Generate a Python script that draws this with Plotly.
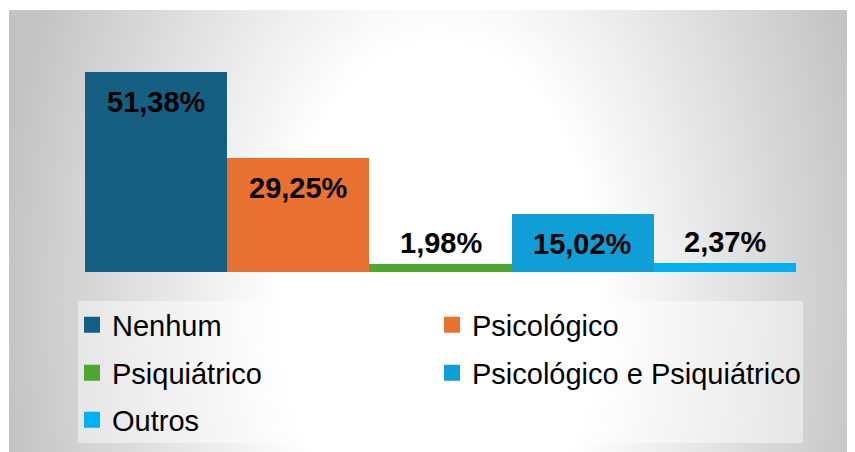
import base64
import plotly.graph_objects as go

categories = ["Nenhum", "Psicológico", "Psiquiátrico", "Psicológico e Psiquiátrico", "Outros"]
values = [51.38, 29.25, 1.98, 15.02, 2.37]
labels = ["51,38%", "29,25%", "1,98%", "15,02%", "2,37%"]

colors = ["#156082", "#E97132", "#4EA72E", "#0F9ED5", "#00B0F0"]
label_shift = [-30, -30, 21, -30, 21]
# legend grid placement (column left edge px, row centre px)
legend_x = [72, 432, 72, 432, 72]
legend_y = [325, 325, 373, 373, 420]

# page body adds an 8px offset; figure is sized to fill the rest of the 855x452 window
OFF = 8
W, H = 855 - OFF, 452 - OFF


def px(x):
    return (x - OFF) / W


def py(y):
    return 1 - (y - OFF) / H


svg = '''<svg xmlns="http://www.w3.org/2000/svg" width="846" height="442" viewBox="0 0 846 442">
<defs><radialGradient id="g" gradientUnits="userSpaceOnUse" cx="431" cy="290" r="440"
 gradientTransform="translate(431 290) scale(1 1.6) translate(-431 -290)">
<stop offset="0" stop-color="#ffffff"/><stop offset="0.36" stop-color="#ffffff"/>
<stop offset="1" stop-color="#c3c3c3"/></radialGradient></defs>
<rect x="0" y="0" width="846" height="442" fill="url(#g)"/></svg>'''
bg_src = "data:image/svg+xml;base64," + base64.b64encode(svg.encode()).decode()

fig = go.Figure()
for i, cat in enumerate(categories):
    fig.add_trace(go.Bar(
        x=[cat], y=[values[i]], name=cat,
        marker=dict(color=colors[i], line=dict(width=0)),
        showlegend=False, hoverinfo="skip",
    ))

legend_font = dict(family="Liberation Sans, Arial", size=29, color="#000000")
legend_layout = {}
for i, cat in enumerate(categories):
    lid = "legend" if i == 0 else f"legend{i + 1}"
    fig.add_trace(go.Scatter(
        x=[None], y=[None], name=cat, mode="markers",
        marker=dict(symbol="square", size=17, color=colors[i]),
        legend=lid, showlegend=True, hoverinfo="skip",
    ))
    legend_layout[lid] = dict(
        x=px(legend_x[i]), y=py(legend_y[i]), orientation="h",
        xanchor="left", yanchor="middle", bgcolor="rgba(0,0,0,0)", borderwidth=0,
        font=legend_font, itemclick=False, itemdoubleclick=False, itemsizing="trace")

for i, cat in enumerate(categories):
    fig.add_annotation(x=cat, y=values[i], xref="x", yref="y", text=labels[i],
                       showarrow=False, yshift=label_shift[i],
                       font=dict(family="Liberation Sans, Arial", size=29, color="#000000",
                                 weight="bold"),
                       yanchor="middle")

fig.add_layout_image(dict(source=bg_src, xref="paper", yref="paper",
                          x=px(9), y=py(10), sizex=846 / W, sizey=442 / H,
                          xanchor="left", yanchor="top", sizing="stretch", layer="below"))

fig.add_shape(type="rect", xref="paper", yref="paper",
              x0=px(78), x1=px(803), y0=py(443), y1=py(301),
              fillcolor="rgba(255,255,255,0.45)", line=dict(width=0), layer="below")

fig.update_layout(
    width=W, height=H,
    margin=dict(l=0, r=0, t=0, b=0),
    paper_bgcolor="#ffffff",
    plot_bgcolor="rgba(0,0,0,0)",
    barmode="overlay",
    bargap=0,
    showlegend=True,
    xaxis=dict(domain=[px(85), px(796)], range=[-0.5, 4.5], type="category",
               categoryorder="array", categoryarray=categories,
               showticklabels=False, showgrid=False, zeroline=False, showline=False, ticks=""),
    yaxis=dict(domain=[py(272), py(72)], range=[0, 51.38],
               showticklabels=False, showgrid=False, zeroline=False, showline=False, ticks=""),
    **legend_layout,
)

fig.write_html("out.html")
